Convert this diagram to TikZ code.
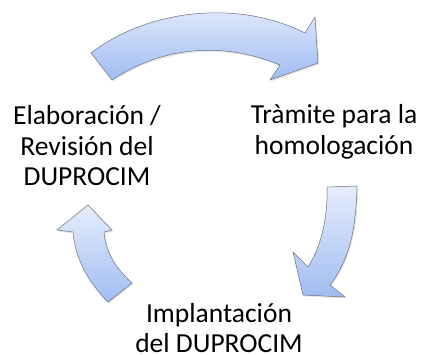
\documentclass[tikz,border=0pt]{standalone}
\usepackage{fontspec}
\setmainfont{Carlito}
\usepackage{tikz}
\usetikzlibrary{shadows, positioning}
\definecolor{arrowtop}{RGB}{230,237,252}
\definecolor{arrowbottom}{RGB}{160,189,242}
\definecolor{arrowline}{RGB}{105,112,128}

\begin{document}
\begin{tikzpicture}[x=1pt, y=-1pt, line width=0.5pt,
    curvearrow/.style={draw=arrowline, top color=arrowtop, bottom color=arrowbottom,
        drop shadow={opacity=0.2, shadow xshift=1.2pt, shadow yshift=-1.5pt}},
    steptext/.style={align=center, font=\fontsize{27.5}{30.5}\selectfont, inner sep=0pt}]
    \useasboundingbox (0,0) rectangle (425,354);
    % the three steps
    \node [steptext] (elab) at (87,146) {Elaboración /\\Revisión del\\DUPROCIM};
    \node [steptext] (tram) at (334,132) {Tràmite para la\\homologación};
    \node [steptext] (impl) at (219,328) {Implantación\\del DUPROCIM};
    % arrows between them
    \path [curvearrow] (91,53) .. controls (150,8) and (240,0) .. (305,33)
        -- (315,17) -- (318,63) -- (270,80) -- (280,65)
        .. controls (220,40) and (160,48) .. (112,80) -- cycle;
    \path [curvearrow] (327,187) -- (357,186)
        .. controls (356,240) and (345,265) .. (330,285)
        -- (345,297) -- (303,295) -- (293,252) -- (308,267)
        .. controls (322,245) and (328,215) .. (327,187) -- cycle;
    \path [curvearrow] (88,205) -- (112,230) -- (104,232)
        .. controls (106,255) and (118,270) .. (132,283)
        -- (108,302) .. controls (88,282) and (75,258) .. (73,232)
        -- (57,230) -- cycle;
\end{tikzpicture}
\end{document}
